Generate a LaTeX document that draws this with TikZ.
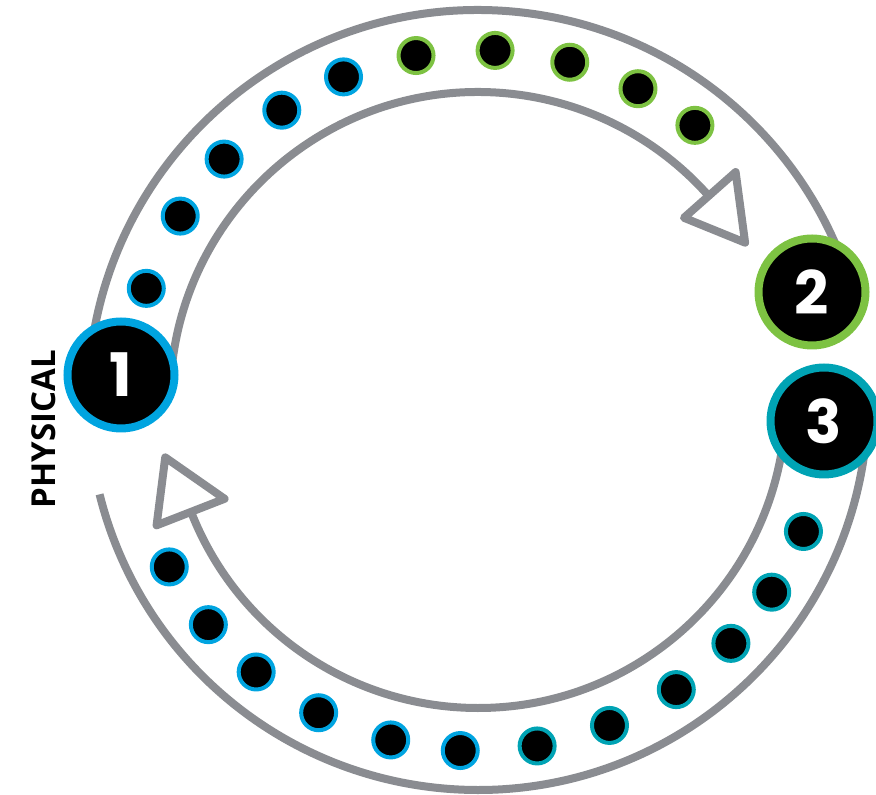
\documentclass[tikz,border=0pt]{standalone}
\usepackage{fontspec}
\usepackage{xcolor}
\usepackage{tikz}
\usetikzlibrary{calc}
\newfontfamily\numfont{Poppins}
\newfontfamily\labelfont{Open Sans}
\definecolor{ringgray}{RGB}{138,140,145}
\definecolor{physblue}{RGB}{0,164,224}
\definecolor{stepgreen}{RGB}{125,194,66}
\definecolor{stepteal}{RGB}{0,163,180}
\tikzstyle{ring} = [ringgray, line width=8pt]
\tikzstyle{head} = [ringgray, line width=8pt, line join=round, fill=white]
\tikzstyle{bead} = [circle, fill=black, line width=4pt, minimum size=35pt, inner sep=0pt]
\tikzstyle{stage} = [circle, fill=black, line width=8pt, minimum size=107pt, inner sep=0pt, text=white, font=\numfont\bfseries\fontsize{60}{60}\selectfont]

\begin{document}
\begin{tikzpicture}[x=1pt, y=1pt]

\useasboundingbox (0, 0) rectangle (876, 795);
\coordinate (c) at (478, 395);

% Outer track
\draw [ring] ($(c) + (176:390)$) arc [start angle=176, end angle=18, radius=390];
\draw [ring] ($(c) + (-3:390)$) arc [start angle=-3, end angle=-166, radius=390];

% Inner track
\draw [ring] ($(c) + (176:308)$) arc [start angle=176, end angle=41.5, radius=308];
\draw [ring] ($(c) + (-3:308)$) arc [start angle=-3, end angle=-158.7, radius=308];

% Arrow heads
\draw [head] ($(c) + (41.5:275)$) -- ($(c) + (30.5:310)$) -- ($(c) + (41.5:344)$) -- cycle;
\draw [head] ($(c) + (-158.7:272)$) -- ($(c) + (-169.6:318)$) -- ($(c) + (-158.7:345)$) -- cycle;

% Beads, top half
\foreach \a [count=\i] in {161.4, 148.3, 136.5, 124.1, 112.6}
  \node [bead, draw=physblue] (u\i) at ($(c) + (\a:350)$) {};
\foreach \a [count=\i from 6] in {100.2, 87.2, 74.8, 62.8, 51.7}
  \node [bead, draw=stepgreen] (u\i) at ($(c) + (\a:350)$) {};

% Beads, bottom half
\foreach \a [count=\i] in {208.4, 219.8, 230.8, 243.0, 255.6, 267.1}
  \node [bead, draw=physblue] (l\i) at ($(c) + (\a:351)$) {};
\foreach \a [count=\i from 7] in {279.7, 292.0, 304.4, 316.1, 326.8, 338.0}
  \node [bead, draw=stepteal] (l\i) at ($(c) + (\a:351)$) {};

% Stages
\node [stage, draw=physblue] (n1) at (121, 420) {1};
\node [stage, draw=stepgreen] (n2) at (812, 503) {2};
\node [stage, draw=stepteal] (n3) at (824, 374) {3};

\node [rotate=90, font=\labelfont\bfseries\fontsize{33}{33}\selectfont] (phys) at (44, 366) {PHYSICAL};

\end{tikzpicture}
\end{document}
